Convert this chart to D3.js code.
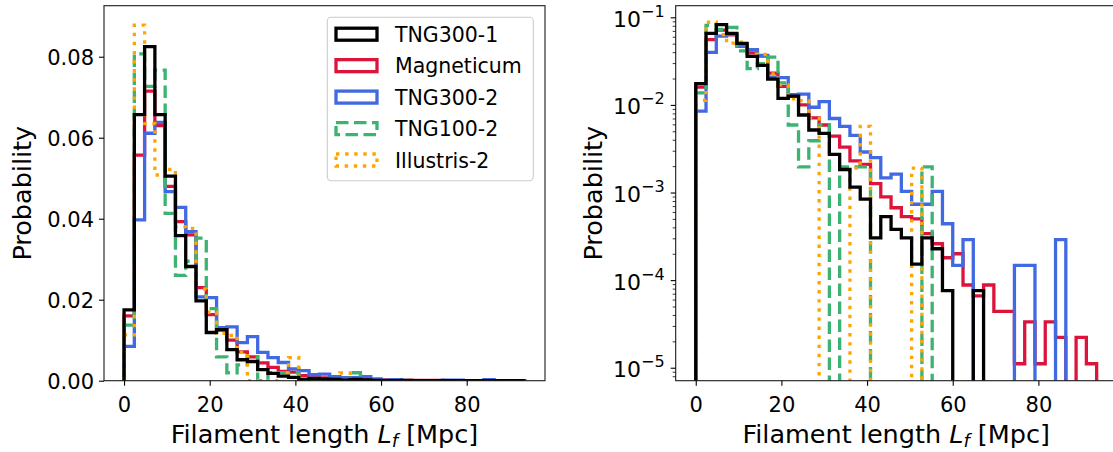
<!DOCTYPE html>
<html><head><meta charset="utf-8">
<script src="https://cdn.jsdelivr.net/npm/d3@7"></script>
<style>body{margin:0;background:#fff} svg{display:block} text{font-family:"DejaVu Sans",sans-serif;}</style>
</head><body><div id="chart"></div>
<script>
// ---------------- data ----------------
const seriesNames = ["TNG300-1", "Magneticum", "TNG300-2", "TNG100-2", "Illustris-2"];
const binWidth = 2.4;   // Mpc
const nBins = 39;
const tng300_1 = [0.0175, 0.0657, 0.0825, 0.0657, 0.0505, 0.0358, 0.0282, 0.0197, 0.0119, 0.0126,
  0.00767, 0.00517, 0.00474, 0.00273, 0.00183, 0.00115, 0.00084, 0.000304, 0.000532, 0.00038,
  0.000304, 0.000152, 0.000304, 0.000228, 0.000076, 0, 0, 0.000076, 0, 0,
  0, 0, 0, 0, 0, 0, 0, 0, 0];
const magneticum = [0.016, 0.0557, 0.0715, 0.063, 0.048, 0.0393, 0.036, 0.023, 0.0163, 0.0125,
  0.0100, 0.0071, 0.0059, 0.0044, 0.0033, 0.0023, 0.0021, 0.00126, 0.00089, 0.00067,
  0.00053, 0.0005, 0.00034, 0.00026, 0.00018, 0.0002, 0.000088, 0.000066, 0.000088, 0.000044,
  0.000044, 0.0000111, 0.0000333, 0.0000111, 0.0000333, 0.0000222, 0, 0.0000222, 0.0000111];
const tng300_2 = [0.0085, 0.0397, 0.0611, 0.0638, 0.0467, 0.0428, 0.0368, 0.0207, 0.0205, 0.0131,
  0.0133, 0.0094, 0.0109, 0.0070, 0.0057, 0.0045, 0.0029, 0.0025, 0.00147, 0.00162,
  0.00103, 0.000735, 0.000735, 0.00103, 0.00044, 0.000147, 0.00029, 0, 0, 0,
  0, 0.000147, 0.000147, 0, 0, 0.00029, 0, 0, 0];
const tng100_2 = [0.0137, 0.0807, 0.0727, 0.0767, 0.0413, 0.026, 0.0295, 0.0352, 0.0178, 0.0059,
  0.00196, 0.0039, 0.0059, 0, 0.00196, 0.00196, 0.00196, 0, 0, 0,
  0, 0, 0.00196, 0, 0, 0, 0, 0, 0, 0,
  0, 0, 0, 0, 0, 0, 0, 0, 0];
const illustris_2 = [0.0113, 0.0878, 0.0635, 0.0508, 0.0522, 0.038, 0.0376, 0.0226, 0.0169, 0.0117,
  0.0112, 0.0070, 0, 0, 0, 0.0019, 0.0057, 0, 0, 0,
  0, 0.0019, 0, 0, 0, 0, 0, 0, 0, 0,
  0, 0, 0, 0, 0, 0, 0, 0, 0];
const xTicks = [0, 20, 40, 60, 80];
const yTicksLin = [0, 0.02, 0.04, 0.06, 0.08];
const yTickLabelsLin = ["0.00", "0.02", "0.04", "0.06", "0.08"];
const yTicksLog = [1e-5, 1e-4, 1e-3, 1e-2, 1e-1];
const yTickExpLog = ["\u22125", "\u22124", "\u22123", "\u22122", "\u22121"];
const yLabelText = "Probability";

// ---------------- setup ----------------
const W = 1113, H = 452;
const svg = d3.select("#chart").append("svg").attr("width", W).attr("height", H);
svg.append("rect").attr("width", W).attr("height", H).attr("fill", "#fff");

const edges = d3.range(nBins + 1).map(i => +(i * binWidth).toFixed(3));
const seriesData = {
  "TNG300-1": tng300_1, "Magneticum": magneticum, "TNG300-2": tng300_2,
  "TNG100-2": tng100_2, "Illustris-2": illustris_2
};
const styles = {
  "TNG300-1": {color: "#000000", dash: null},
  "Magneticum": {color: "#dc143c", dash: null},
  "TNG300-2": {color: "#4169e1", dash: null},
  "TNG100-2": {color: "#3cb371", dash: "12.5,5.5"},
  "Illustris-2": {color: "#ffa500", dash: "3.4,5.7"}
};
const drawOrder = ["Magneticum", "TNG300-2", "TNG100-2", "Illustris-2", "TNG300-1"];
const LW = 3.3;
const axTop = 5.7, axBottom = 380.7;
const xDomain = [-4.68, 98.28];
const panels = [
  {left: 104, right: 545, log: false, ylabX: 31},
  {left: 675.7, right: 1116.7, log: true, ylabX: 602}
];
const FONT = "DejaVu Sans";
const tickFont = 21;
const labelFont = 25.5;

panels.forEach((p, pi) => {
  const x = d3.scaleLinear().domain(xDomain).range([p.left, p.right]);
  const y = p.log
    ? d3.scaleLog().domain([Math.pow(10, -5.148), Math.pow(10, -0.8676)]).range([axBottom, axTop])
    : d3.scaleLinear().domain([0, 0.0926]).range([axBottom, axTop]);
  const g = svg.append("g");
  const clipId = "clip" + pi;
  svg.append("clipPath").attr("id", clipId).append("rect")
    .attr("x", p.left).attr("y", axTop).attr("width", p.right - p.left).attr("height", axBottom - axTop);

  const yv = v => (p.log ? (v > 0 ? y(v) : axBottom + 40) : y(v));
  const base = p.log ? axBottom + 40 : y(0);
  const line = d3.line().x(d => x(d[0])).y(d => (d[1] === null ? base : yv(d[1])));

  const lines = g.append("g").attr("clip-path", `url(#${clipId})`);
  drawOrder.forEach(name => {
    const vals = seriesData[name];
    const pts = [[edges[0], null]];
    vals.forEach((v, i) => { pts.push([edges[i], v]); pts.push([edges[i + 1], v]); });
    pts.push([edges[nBins], null]);
    const st = styles[name];
    lines.append("path").attr("d", line(pts))
      .attr("fill", "none").attr("stroke", st.color).attr("stroke-width", LW)
      .attr("stroke-linejoin", "miter").attr("stroke-linecap", "butt")
      .attr("stroke-dasharray", st.dash);
  });

  // frame
  g.append("rect").attr("x", p.left).attr("y", axTop).attr("width", p.right - p.left)
    .attr("height", axBottom - axTop).attr("fill", "none").attr("stroke", "#1a1a1a").attr("stroke-width", 1.1);

  // x axis
  const gx = g.append("g").attr("transform", `translate(0,${axBottom})`)
    .call(d3.axisBottom(x).tickValues(xTicks).tickSize(5).tickSizeOuter(0).tickFormat(d3.format("d")));
  gx.select(".domain").remove();
  gx.attr("font-family", FONT).attr("font-size", tickFont);
  gx.selectAll(".tick line").attr("stroke", "#000").attr("stroke-width", 1.1);
  gx.selectAll(".tick text").attr("fill", "#000").attr("y", 31).attr("dy", null);

  // y axis
  if (!p.log) {
    const gy = g.append("g").attr("transform", `translate(${p.left},0)`)
      .call(d3.axisLeft(y).tickValues(yTicksLin).tickSize(5).tickSizeOuter(0)
        .tickFormat((d, i) => yTickLabelsLin[i]));
    gy.select(".domain").remove();
    gy.attr("font-family", FONT).attr("font-size", tickFont);
    gy.selectAll(".tick line").attr("stroke", "#000").attr("stroke-width", 1.1);
    gy.selectAll(".tick text").attr("fill", "#000").attr("x", -10).attr("dy", "0.36em");
  } else {
    const minor = [];
    for (let e = -6; e <= 0; e++) for (let m = 2; m <= 9; m++) {
      const v = m * Math.pow(10, e);
      if (y(v) >= axTop && y(v) <= axBottom) minor.push(v);
    }
    const gm = g.append("g").attr("transform", `translate(${p.left},0)`)
      .call(d3.axisLeft(y).tickValues(minor).tickSize(3).tickSizeOuter(0).tickFormat(""));
    gm.select(".domain").remove();
    gm.selectAll(".tick line").attr("stroke", "#000").attr("stroke-width", 0.8);
    const gy = g.append("g").attr("transform", `translate(${p.left},0)`)
      .call(d3.axisLeft(y).tickValues(yTicksLog).tickSize(5).tickSizeOuter(0).tickFormat(""));
    gy.select(".domain").remove();
    gy.attr("font-family", FONT).attr("font-size", 22);
    gy.selectAll(".tick line").attr("stroke", "#000").attr("stroke-width", 1.1);
    gy.selectAll(".tick text").each(function (d, i) {
      const t = d3.select(this).attr("fill", "#000").attr("x", -11).attr("dy", null).attr("y", 9);
      t.text(null);
      t.append("tspan").text("10");
      t.append("tspan").attr("font-size", 16).attr("dy", -10).text(yTickExpLog[i]);
    });
  }

  // axis labels
  const xl = g.append("text").attr("x", (p.left + p.right) / 2).attr("y", 443)
    .attr("text-anchor", "middle").attr("font-size", labelFont).attr("fill", "#000").attr("font-family", FONT);
  xl.append("tspan").text("Filament length ");
  xl.append("tspan").attr("font-style", "italic").text("L");
  xl.append("tspan").attr("font-style", "italic").attr("font-size", 18).attr("dy", 4).text("f");
  xl.append("tspan").attr("dy", -4).text(" [Mpc]");
  g.append("text").attr("transform", `translate(${p.ylabX},${(axTop + axBottom) / 2}) rotate(-90)`)
    .attr("text-anchor", "middle").attr("font-size", labelFont).attr("fill", "#000").attr("font-family", FONT)
    .text(yLabelText);
});

// legend
const lg = svg.append("g");
lg.append("rect").attr("x", 327.3).attr("y", 17.3).attr("width", 206).attr("height", 163.4)
  .attr("rx", 4).attr("fill", "#fff").attr("fill-opacity", 0.8).attr("stroke", "#cccccc").attr("stroke-width", 1.1);
seriesNames.forEach((name, i) => {
  const cy = 34.2 + i * 31.45;
  const st = styles[name];
  lg.append("rect").attr("x", 336).attr("y", cy - 6).attr("width", 41).attr("height", 12)
    .attr("fill", "none").attr("stroke", st.color).attr("stroke-width", LW)
    .attr("stroke-dasharray", st.dash);
  lg.append("text").attr("x", 395).attr("y", cy + 7.5).attr("font-size", 20.5)
    .attr("fill", "#000").attr("font-family", FONT).text(name);
});
</script></body></html>
